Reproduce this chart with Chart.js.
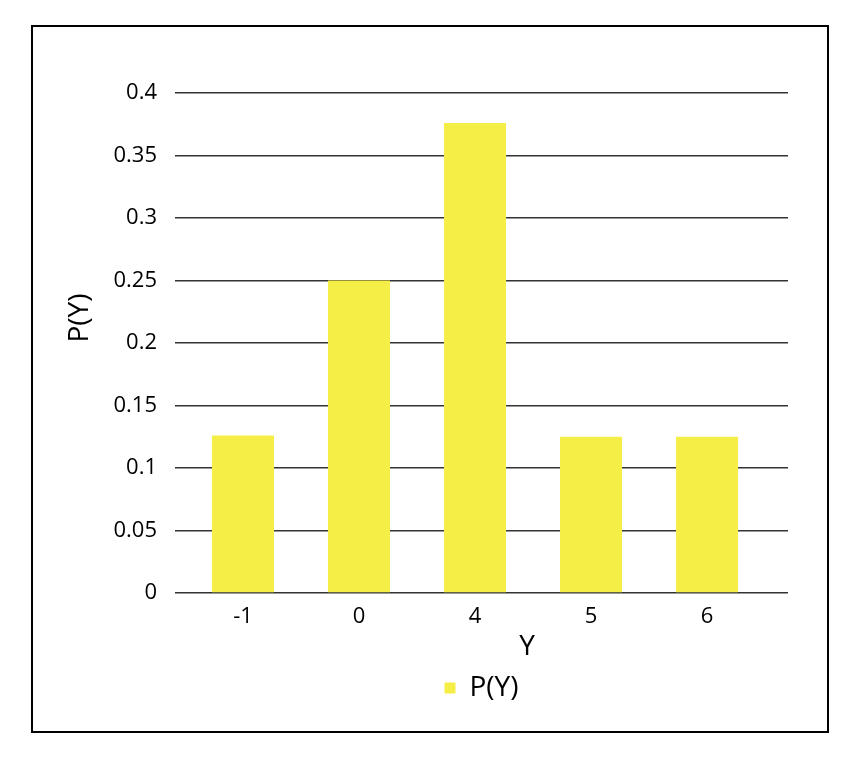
<!DOCTYPE html>
<html lang="en">
<head>
    <meta charset="UTF-8">
    <title>P(Y)</title>
    <script src="https://cdn.jsdelivr.net/npm/chart.js"></script>
    <style>
        body {
            margin: 0;
            background: #fff;
            font-family: 'Open Sans', sans-serif;
        }

        .wrap {
            position: absolute;
            left: 0;
            top: 0;
            width: 856px;
            height: 760px;
        }

        .frame {
            position: absolute;
            left: 31px;
            top: 25px;
            width: 794px;
            height: 704px;
            border: 2px solid #000;
            pointer-events: none;
        }
    </style>
</head>
<body>
    <div class="wrap">
        <canvas id="chart" width="856" height="760"></canvas>
    </div>
    <div class="frame"></div>

    <script>
        // categories and probabilities
        const categories = ['-1', '0', '4', '5', '6'];
        const probs = [0.126, 0.25, 0.376, 0.125, 0.125];
        const yTicks = [0, 0.05, 0.1, 0.15, 0.2, 0.25, 0.3, 0.35, 0.4];

        const font = "'Open Sans', sans-serif";

        // axis titles sit off-centre in the original, so draw them by hand
        const axisTitles = {
            id: 'axisTitles',
            afterDraw(chart) {
                const c = chart.ctx;
                c.save();
                c.fillStyle = '#000';
                c.font = "28px 'Open Sans', sans-serif";
                c.textAlign = 'center';
                c.textBaseline = 'middle';
                c.fillText('Y', 527, 647);
                c.translate(80, 318);
                c.rotate(-Math.PI / 2);
                c.fillText('P(Y)', 0, 0);
                c.restore();
            }
        };

        const ctx = document.getElementById('chart').getContext('2d');
        const chart = new Chart(ctx, {
            type: 'bar',
            data: {
                datasets: [{
                    label: 'P(Y)',
                    data: probs.map((p, i) => ({ x: i, y: p })),
                    backgroundColor: '#f5ee47',
                    borderWidth: 0,
                    barPercentage: 0.535,
                    categoryPercentage: 1
                }]
            },
            options: {
                responsive: false,
                animation: false,
                layout: {
                    padding: { left: 0, right: 68, top: 93, bottom: 48 }
                },
                scales: {
                    x: {
                        type: 'linear',
                        offset: false,
                        min: -0.586,
                        max: 4.698,
                        grid: { display: false },
                        border: { display: false },
                        afterBuildTicks: (s) => {
                            s.ticks = categories.map((c, i) => ({ value: i }));
                        },
                        afterFit: (s) => { s.height = 71; },
                        ticks: {
                            padding: 3,
                            color: '#000',
                            font: { family: font, size: 22 },
                            callback: (v) => categories[v]
                        }
                    },
                    y: {
                        min: 0,
                        max: 0.4,
                        afterBuildTicks: (s) => {
                            s.ticks = yTicks.map(v => ({ value: v }));
                        },
                        afterFit: (s) => { s.width = 175; },
                        grid: {
                            color: '#333',
                            lineWidth: 1.5,
                            drawTicks: false
                        },
                        border: { display: false },
                        ticks: {
                            padding: 18,
                            color: '#000',
                            font: { family: font, size: 22 },
                            callback: (v) => String(v)
                        }
                    }
                },
                plugins: {
                    legend: {
                        position: 'bottom',
                        fullSize: false,
                        labels: {
                            color: '#000',
                            boxWidth: 11,
                            boxHeight: 11,
                            padding: 10,
                            font: { family: font, size: 28 }
                        }
                    },
                    tooltip: { enabled: false }
                }
            },
            plugins: [axisTitles]
        });
    </script>
</body>
</html>
